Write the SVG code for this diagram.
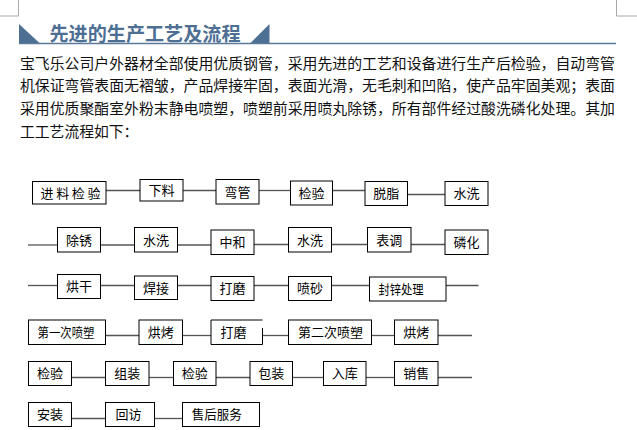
<svg xmlns="http://www.w3.org/2000/svg" width="637" height="430" viewBox="0 0 637 430">
<style>
.bg{fill:#ffffff}
.corner{stroke:#a8a8a8;stroke-width:1;fill:none}
.title{font-family:"Noto Sans CJK SC","Noto Sans CJK TC",sans-serif;font-weight:bold;font-size:19px;fill:#4d6f94}
.tri{fill:#4d6f94}
.rule{stroke:#5b7a9a;stroke-width:1.5}
.body{font-family:"Noto Sans CJK SC","Noto Sans CJK TC",sans-serif;font-size:14.8px;fill:#111}
.box{fill:#ffffff;stroke:#000;stroke-width:1}
.lbl{font-family:"Noto Sans CJK SC","Noto Sans CJK TC",sans-serif;font-size:13px;fill:#000;text-anchor:middle}
.con line{stroke:#555;stroke-width:1.3}
</style>
<rect class="bg" x="0" y="0" width="637" height="430"/>
<g id="corners">
<path class="corner" d="M18.5,0 V16 H0 M616.5,0 V16 H637"/>
</g>
<g id="header">
<polygon class="tri" points="19,24 19,43.5 40,43.5"/>
<polygon class="tri" points="250,43.5 269.5,24 269.5,43.5"/>
<line class="rule" x1="19" y1="43.5" x2="616" y2="43.5"/>
<text class="title" x="49.5" y="41" textLength="191" lengthAdjust="spacingAndGlyphs">先进的生产工艺及流程</text>
</g>
<g id="intro">
<text class="body" x="20" y="68.5" textLength="595" lengthAdjust="spacingAndGlyphs">宝飞乐公司户外器材全部使用优质钢管，采用先进的工艺和设备进行生产后检验，自动弯管</text>
<text class="body" x="20" y="91" textLength="595" lengthAdjust="spacingAndGlyphs">机保证弯管表面无褶皱，产品焊接牢固，表面光滑，无毛刺和凹陷，使产品牢固美观；表面</text>
<text class="body" x="20" y="113.5" textLength="595" lengthAdjust="spacingAndGlyphs">采用优质聚酯室外粉末静电喷塑，喷塑前采用喷丸除锈，所有部件经过酸洗磷化处理。其加</text>
<text class="body" x="20" y="136.5">工工艺流程如下：</text>
</g>
<g id="connectors" class="con">
<line x1="106" y1="190.5" x2="140" y2="190.5"/>
<line x1="183" y1="190.5" x2="216" y2="190.5"/>
<line x1="259" y1="190.5" x2="290.5" y2="190.5"/>
<line x1="332.5" y1="190.5" x2="365" y2="190.5"/>
<line x1="407.5" y1="194.5" x2="445" y2="194.5"/>
<line x1="28" y1="245" x2="57.5" y2="245"/>
<line x1="100.5" y1="245" x2="134.5" y2="245"/>
<line x1="177.5" y1="245" x2="211" y2="245"/>
<line x1="254" y1="244.5" x2="288.5" y2="244.5"/>
<line x1="331.5" y1="244.5" x2="367.5" y2="244.5"/>
<line x1="411" y1="244.5" x2="445" y2="244.5"/>
<line x1="28" y1="285.5" x2="57.5" y2="285.5"/>
<line x1="100.5" y1="285.5" x2="134.5" y2="285.5"/>
<line x1="177.5" y1="285.5" x2="211" y2="285.5"/>
<line x1="254" y1="285.5" x2="288.5" y2="285.5"/>
<line x1="331.5" y1="285.5" x2="369.5" y2="285.5"/>
<line x1="446" y1="285.5" x2="478.5" y2="285.5"/>
<line x1="105.5" y1="335.5" x2="139" y2="335.5"/>
<line x1="182.5" y1="335.5" x2="211" y2="335.5"/>
<line x1="262.5" y1="335.5" x2="288.5" y2="335.5"/>
<line x1="371.5" y1="335.5" x2="394.5" y2="335.5"/>
<line x1="438" y1="335.5" x2="472" y2="335.5"/>
<line x1="71.5" y1="377.5" x2="105.5" y2="377.5"/>
<line x1="149" y1="377.5" x2="173.5" y2="377.5"/>
<line x1="216" y1="377.5" x2="250" y2="377.5"/>
<line x1="292.5" y1="377.5" x2="323.5" y2="377.5"/>
<line x1="366" y1="377.5" x2="394.5" y2="377.5"/>
<line x1="438" y1="377.5" x2="472" y2="377.5"/>
<line x1="71.5" y1="418.5" x2="105.5" y2="418.5"/>
<line x1="154.5" y1="418.5" x2="182.5" y2="418.5"/>
</g>
<g id="n1"><rect class="box" x="32.5" y="181.5" width="73.5" height="22.5"/><text class="lbl" x="70.5" y="197.5" textLength="60" lengthAdjust="spacing">进 料 检 验</text></g>
<g id="n2"><rect class="box" x="140" y="179.5" width="43" height="21.5"/><text class="lbl" x="161.5" y="195">下料</text></g>
<g id="n3"><rect class="box" x="216" y="179.5" width="43" height="24.5"/><text class="lbl" x="237.5" y="196.5">弯管</text></g>
<g id="n4"><rect class="box" x="290.5" y="181" width="42" height="24"/><text class="lbl" x="311.5" y="197.5">检验</text></g>
<g id="n5"><rect class="box" x="365" y="181.5" width="42.5" height="24"/><text class="lbl" x="386.3" y="198">脱脂</text></g>
<g id="n6"><rect class="box" x="445" y="181.5" width="43" height="24"/><text class="lbl" x="466.5" y="198">水洗</text></g>
<g id="n7"><rect class="box" x="57.5" y="227.5" width="43" height="24.5"/><text class="lbl" x="79" y="244.5">除锈</text></g>
<g id="n8"><rect class="box" x="134.5" y="227.5" width="43" height="24.5"/><text class="lbl" x="156" y="244.5">水洗</text></g>
<g id="n9"><rect class="box" x="211" y="230" width="43" height="24.5"/><text class="lbl" x="232.5" y="247">中和</text></g>
<g id="n10"><rect class="box" x="288.5" y="227.5" width="43" height="24.5"/><text class="lbl" x="310" y="244.5">水洗</text></g>
<g id="n11"><rect class="box" x="367.5" y="227.5" width="43.5" height="24.5"/><text class="lbl" x="389.2" y="244.5">表调</text></g>
<g id="n12"><rect class="box" x="445" y="230" width="43" height="24.5"/><text class="lbl" x="466.5" y="247">磷化</text></g>
<g id="n13"><rect class="box" x="57.5" y="274.5" width="43" height="24"/><text class="lbl" x="79" y="291">烘干</text></g>
<g id="n14"><rect class="box" x="134.5" y="276" width="43" height="23.5"/><text class="lbl" x="156" y="292.5">焊接</text></g>
<g id="n15"><rect class="box" x="211" y="276.5" width="43" height="24"/><text class="lbl" x="232.5" y="293">打磨</text></g>
<g id="n16"><rect class="box" x="288.5" y="276.5" width="43" height="24"/><text class="lbl" x="310" y="293">喷砂</text></g>
<g id="n17"><rect class="box" x="369.5" y="277" width="76.5" height="24"/><text class="lbl" x="401" y="293.5" textLength="45" lengthAdjust="spacingAndGlyphs">封锌处理</text></g>
<g id="n18"><rect class="box" x="28.5" y="320" width="77" height="24.5"/><text class="lbl" x="66" y="337" textLength="57" lengthAdjust="spacingAndGlyphs">第一次喷塑</text></g>
<g id="n19"><rect class="box" x="139" y="320" width="43.5" height="24.5"/><text class="lbl" x="160.7" y="337">烘烤</text></g>
<g id="n20"><path class="box" d="M262.5,328 V344.5 H211 V320 H262.5"/><text class="lbl" x="233.5" y="337">打磨</text></g>
<g id="n21"><rect class="box" x="288.5" y="320" width="83" height="24.5"/><text class="lbl" x="330.5" y="337">第二次喷塑</text></g>
<g id="n22"><rect class="box" x="394.5" y="320" width="43.5" height="24.5"/><text class="lbl" x="416.2" y="337">烘烤</text></g>
<g id="n23"><rect class="box" x="28.5" y="361.5" width="43" height="24"/><text class="lbl" x="50" y="378">检验</text></g>
<g id="n24"><rect class="box" x="105.5" y="361.5" width="43.5" height="24"/><text class="lbl" x="127.2" y="378">组装</text></g>
<g id="n25"><rect class="box" x="173.5" y="361.5" width="42.5" height="24"/><text class="lbl" x="194.7" y="378">检验</text></g>
<g id="n26"><rect class="box" x="250" y="361.5" width="42.5" height="24"/><text class="lbl" x="271.2" y="378">包装</text></g>
<g id="n27"><rect class="box" x="323.5" y="361.5" width="42.5" height="24"/><text class="lbl" x="344.7" y="378">入库</text></g>
<g id="n28"><rect class="box" x="394.5" y="361.5" width="43.5" height="24"/><text class="lbl" x="416.2" y="378">销售</text></g>
<g id="n29"><rect class="box" x="28.5" y="402.5" width="43" height="24"/><text class="lbl" x="50" y="419">安装</text></g>
<g id="n30"><rect class="box" x="105.5" y="402.5" width="49" height="24"/><text class="lbl" x="128.5" y="419">回访</text></g>
<g id="n31"><rect class="box" x="182.5" y="402.5" width="77" height="24"/><text class="lbl" x="216.7" y="419" textLength="50" lengthAdjust="spacingAndGlyphs">售后服务</text></g>
</svg>
